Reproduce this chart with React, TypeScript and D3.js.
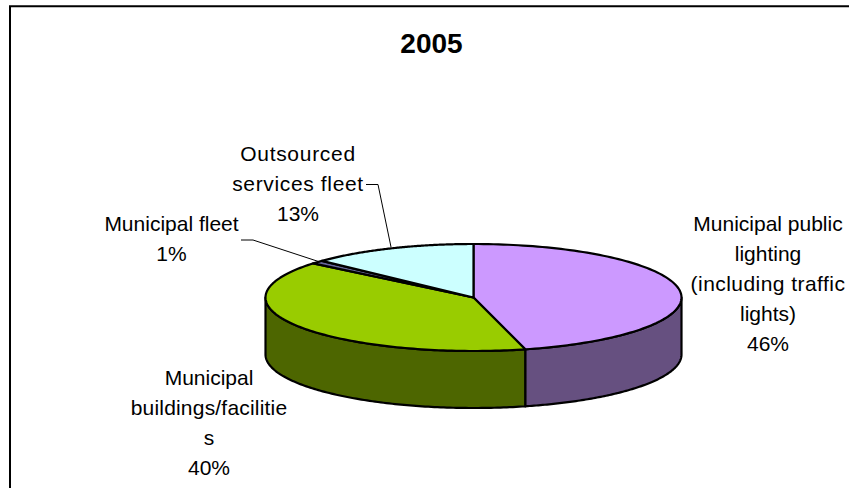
import React from "react";
import * as d3 from "d3";

const categories = ["Municipal public lighting (including traffic lights)", "Municipal buildings/facilities", "Municipal fleet", "Outsourced services fleet"];
const shares = [46, 40, 1, 13];
const topColors = ["#CC99FF", "#99CC00", "#666699", "#CCFFFF"];
const sideColors = ["#665080", "#4D6600", "#333366", "#668080"];
const titleText = "2005";
const labelLines = [
  ["Municipal public", "lighting", "(including traffic", "lights)", "46%"],
  ["Municipal", "buildings/facilitie", "s", "40%"],
  ["Municipal fleet", "1%"],
  ["Outsourced", "services fleet", "13%"],
];
const labelTracking = [
  [0, 0, 0.45, 0, 0],
  [0, 0.2, 0, 0],
  [0, 0],
  [0.7, 0.65, 0],
];
const labelAnchors = [
  { x: 768, y: 231 },
  { x: 209, y: 385 },
  { x: 171.5, y: 231 },
  { x: 298, y: 161 },
];
const leaders = [
  null,
  null,
  [[241, 240], [253, 240], [320, 262]],
  [[366, 184.5], [378, 184.5], [391, 247]],
];

const cx = 473.5, cy = 297.5, rx = 208, ry = 53.5, depth = 57;
const LINE = 30;

const pt = (a: number, dy = 0): [number, number] => [cx + rx * Math.sin(a), cy - ry * Math.cos(a) + dy];

export default function App() {
  const arcs = d3.pie<number>().sort(null)(shares);
  const line = d3.line();
  const sample = (a0: number, a1: number, dy = 0) =>
    d3.range(0, 121).map((i) => pt(a0 + ((a1 - a0) * i) / 120, dy));

  const walls = arcs.map((a, i) => {
    const a0 = Math.max(a.startAngle, Math.PI / 2);
    const a1 = Math.min(a.endAngle, (3 * Math.PI) / 2);
    if (a1 <= a0) return null;
    const pts = [...sample(a0, a1), ...sample(a1, a0, depth)];
    return <path key={i} d={line(pts) + "Z"} fill={sideColors[i]} stroke="#000" strokeWidth={2.2} strokeLinejoin="round" />;
  });
  const tops = arcs.map((a, i) => {
    const pts = [[cx, cy] as [number, number], ...sample(a.startAngle, a.endAngle)];
    return <path key={i} d={line(pts) + "Z"} fill={topColors[i]} stroke="#000" strokeWidth={2.2} strokeLinejoin="round" />;
  });

  return (
    <svg width={849} height={488} style={{ position: "absolute", left: 0, top: 0, background: "#fff" }} fontFamily="Liberation Sans, Arial, sans-serif">
      <line x1={9} y1={6.3} x2={849} y2={6.3} stroke="#000" strokeWidth={2} />
      <line x1={10} y1={6} x2={10} y2={488} stroke="#000" strokeWidth={2} />
      <text x={431.5} y={52.5} textAnchor="middle" fontSize={28} fontWeight="bold" fill="#000">{titleText}</text>
      {walls}
      {tops}
      {leaders.map((l, i) =>
        l ? <path key={i} d={line(l as [number, number][]) ?? ""} fill="none" stroke="#000" strokeWidth={1} /> : null
      )}
      {labelLines.map((lines, i) => (
        <text key={i} textAnchor="middle" fontSize={21} fill="#000" aria-label={categories[i]}>
          {lines.map((t, j) => (
            <tspan key={j} x={labelAnchors[i].x} y={labelAnchors[i].y + j * LINE} letterSpacing={labelTracking[i][j]}>{t}</tspan>
          ))}
        </text>
      ))}
    </svg>
  );
}
